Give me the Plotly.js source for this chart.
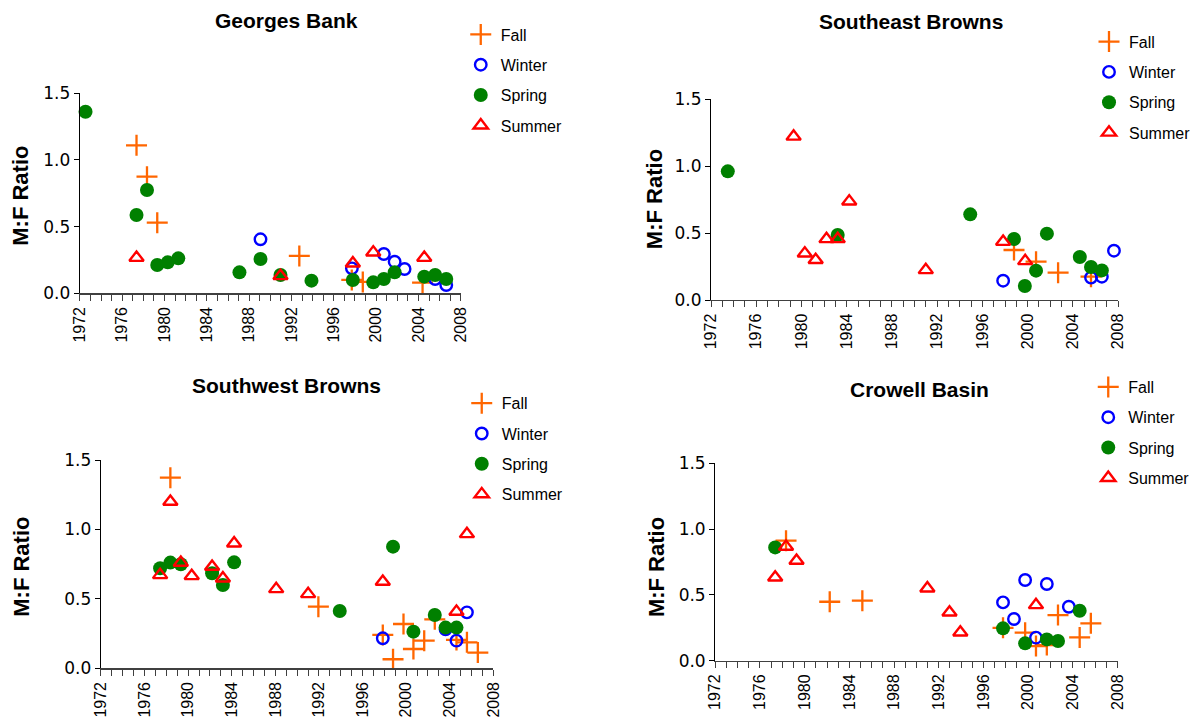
<!DOCTYPE html>
<html>
<head>
<meta charset="utf-8">
<script src="https://cdn.plot.ly/plotly-3.0.1.min.js"></script>
<style>html,body{margin:0;padding:0;background:#fff;}#chart{width:1196px;height:723px;}</style>
</head>
<body>
<div id="chart"></div>
<script>
// ---- data (decimal year, M:F ratio) ----
const seasons = ["Fall", "Winter", "Spring", "Summer"];
const panelTitles = ["Georges Bank", "Southeast Browns", "Southwest Browns", "Crowell Basin"];
const yTitle = "M:F Ratio";
const yearTicks = [1972, 1976, 1980, 1984, 1988, 1992, 1996, 2000, 2004, 2008];
const ratioTicks = [0.0, 0.5, 1.0, 1.5];

// Georges Bank
const gbFallX   = [1977.35, 1978.34, 1979.31, 1992.74, 1997.70, 1998.74, 2004.39];
const gbFallY   = [1.11, 0.875, 0.53, 0.28, 0.10, 0.085, 0.08];
const gbWinterX = [1989.07, 1997.71, 2000.73, 2001.75, 2002.69, 2005.58, 2006.63];
const gbWinterY = [0.405, 0.187, 0.295, 0.237, 0.182, 0.107, 0.062];
const gbSpringX = [1972.53, 1977.35, 1978.34, 1979.31, 1980.30, 1981.30, 1987.08, 1989.07, 1990.96, 1993.89, 1997.80, 1999.73, 2000.73, 2001.75, 2004.55, 2005.58, 2006.63];
const gbSpringY = [1.362, 0.587, 0.775, 0.212, 0.232, 0.262, 0.157, 0.257, 0.137, 0.095, 0.10, 0.082, 0.107, 0.157, 0.125, 0.137, 0.107];
const gbSummerX = [1977.35, 1990.96, 1997.80, 1999.73, 2004.55];
const gbSummerY = [0.267, 0.13, 0.225, 0.307, 0.267];

// Southeast Browns
const seFallX   = [1998.79, 2000.74, 2002.69, 2005.60];
const seFallY   = [0.373, 0.286, 0.204, 0.174];
const seWinterX = [1997.83, 2005.60, 2006.56, 2007.63];
const seWinterY = [0.144, 0.167, 0.174, 0.368];
const seSpringX = [1973.48, 1983.20, 1994.92, 1998.79, 1999.75, 2000.74, 2001.70, 2004.61, 2005.60, 2006.56];
const seSpringY = [0.96, 0.485, 0.639, 0.455, 0.104, 0.219, 0.495, 0.321, 0.246, 0.221];
const seSummerX = [1979.30, 1980.29, 1981.25, 1982.21, 1983.20, 1984.22, 1990.99, 1997.83, 1999.78];
const seSummerY = [1.22, 0.348, 0.299, 0.455, 0.455, 0.736, 0.224, 0.435, 0.291];

// Southwest Browns
const swFallX   = [1978.37, 1991.95, 1997.86, 1998.80, 1999.76, 2000.67, 2001.66, 2002.63, 2004.62, 2005.58, 2006.58];
const swFallY   = [1.373, 0.444, 0.24, 0.065, 0.319, 0.139, 0.199, 0.353, 0.204, 0.187, 0.113];
const swWinterX = [1997.86, 2003.62, 2004.62, 2005.58];
const swWinterY = [0.216, 0.281, 0.199, 0.403];
const swSpringX = [1977.43, 1978.37, 1979.33, 1982.20, 1983.19, 1984.22, 1993.91, 1998.80, 2000.67, 2002.63, 2003.62, 2004.62];
const swSpringY = [0.72, 0.761, 0.749, 0.684, 0.60, 0.763, 0.413, 0.876, 0.264, 0.384, 0.293, 0.293];
const swSummerX = [1977.43, 1978.37, 1979.33, 1980.33, 1982.20, 1983.19, 1984.22, 1988.08, 1991.01, 1997.86, 2004.62, 2005.58];
const swSummerY = [0.672, 1.20, 0.761, 0.665, 0.732, 0.648, 0.90, 0.571, 0.535, 0.624, 0.408, 0.967];

// Crowell Basin
const cbFallX   = [1978.33, 1982.24, 1985.16, 1997.75, 1999.73, 2000.70, 2001.67, 2002.67, 2004.61, 2005.61];
const cbFallY   = [0.912, 0.448, 0.456, 0.25, 0.213, 0.111, 0.119, 0.347, 0.177, 0.284];
const cbWinterX = [1997.75, 1998.73, 1999.73, 2000.70, 2001.67, 2003.64];
const cbWinterY = [0.443, 0.317, 0.613, 0.175, 0.583, 0.41];
const cbSpringX = [1977.36, 1997.75, 1999.73, 2001.67, 2002.67, 2004.61];
const cbSpringY = [0.861, 0.246, 0.132, 0.162, 0.15, 0.38];
const cbSummerX = [1977.36, 1978.33, 1979.27, 1990.98, 1992.96, 1993.93, 2000.70];
const cbSummerY = [0.633, 0.867, 0.76, 0.55, 0.367, 0.215, 0.423];

// ---- figure construction ----
const W = 1196, H = 723;
const FONT = "Liberation Sans, Arial, sans-serif";
const TICKFONT_Y = "DejaVu Sans, Verdana, sans-serif";
const px2x = p => p / W;
const px2y = p => 1 - p / H;

const markerStyles = {
  Fall:   {symbol: "cross-thin-open", size: 15, color: "#FF6600", line: {color: "#FF6600", width: 2.3}},
  Winter: {symbol: "circle-open", size: 11.5, color: "#0000FF", line: {color: "#0000FF", width: 2.4}},
  Spring: {symbol: "circle", size: 14, color: "#008000", line: {width: 0}},
  Summer: {symbol: "triangle-up-open", size: 12.5, color: "#FF0000", line: {color: "#FF0000", width: 2.4}}
};

const panelData = [
  [[gbFallX, gbFallY], [gbWinterX, gbWinterY], [gbSpringX, gbSpringY], [gbSummerX, gbSummerY]],
  [[seFallX, seFallY], [seWinterX, seWinterY], [seSpringX, seSpringY], [seSummerX, seSummerY]],
  [[swFallX, swFallY], [swWinterX, swWinterY], [swSpringX, swSpringY], [swSummerX, swSummerY]],
  [[cbFallX, cbFallY], [cbWinterX, cbWinterY], [cbSpringX, cbSpringY], [cbSummerX, cbSummerY]]
];

// plot-area pixel boxes [left, right, bottom, top]
const boxes = [
  [81, 467, 293.3, 93.3],
  [720.7, 1133.3, 300, 99],
  [102.3, 500, 668.3, 460],
  [725, 1132.7, 660.7, 463.3]
];
const titlePos = [[290, 20.5], [923, 21], [290, 385], [932, 389]];
const yTitlePos = [[21, 196], [663, 199], [21, 567], [665, 567]];
const legendPos = [[467, 17.5], [1104, 24.7], [468, 386.3], [1103, 370]];

const traces = [];
const layout = {
  width: W, height: H,
  margin: {l: 0, r: 0, t: 0, b: 0},
  paper_bgcolor: "#fff", plot_bgcolor: "#fff",
  font: {family: FONT, size: 16, color: "#000"},
  showlegend: true,
  annotations: []
};

panelData.forEach((series, i) => {
  const n = i + 1;
  const xa = n === 1 ? "x" : "x" + n;
  const ya = n === 1 ? "y" : "y" + n;
  const lg = n === 1 ? "legend" : "legend" + n;
  series.forEach((s, k) => {
    const name = seasons[k];
    traces.push({
      type: "scatter", mode: "markers",
      x: s[0], y: s[1], name: name,
      xaxis: xa, yaxis: ya, legend: lg,
      legendgroup: "p" + n + name,
      marker: markerStyles[name],
      cliponaxis: false,
      hoverinfo: "x+y+name"
    });
  });
  const b = boxes[i];
  layout[n === 1 ? "xaxis" : "xaxis" + n] = {
    domain: [px2x(b[0]), px2x(b[1])], anchor: ya,
    range: [1972, 2008], tickmode: "array", tickvals: yearTicks,
    ticktext: yearTicks.map(String), tickangle: -90,
    ticks: "outside", ticklen: 6, tickwidth: 1, tickcolor: "#404040",
    minor: {dtick: 1, tick0: 1972, ticks: "outside", ticklen: 6, tickwidth: 1, tickcolor: "#404040", showgrid: false},
    showline: true, linecolor: "#404040", linewidth: 1.3,
    showgrid: false, zeroline: false,
    tickfont: {family: FONT, size: 16, color: "#000"}
  };
  layout[n === 1 ? "yaxis" : "yaxis" + n] = {
    domain: [px2y(b[2]), px2y(b[3])], anchor: xa,
    range: [0, 1.5], tickmode: "array", tickvals: ratioTicks,
    ticktext: ratioTicks.map(v => v.toFixed(1)),
    ticks: "outside", ticklen: 5, tickwidth: 1, tickcolor: "#000",
    showline: true, linecolor: "#000", linewidth: 1.2,
    showgrid: false, zeroline: false,
    tickfont: {family: TICKFONT_Y, size: 17, color: "#000"}
  };
  layout[lg] = {
    x: px2x(legendPos[i][0]), y: px2y(legendPos[i][1]),
    xanchor: "left", yanchor: "top",
    bgcolor: "rgba(0,0,0,0)", borderwidth: 0,
    font: {family: FONT, size: 16, color: "#000"},
    itemwidth: 30, tracegroupgap: 6.5, traceorder: "grouped",
    itemclick: false, itemdoubleclick: false
  };
  layout.annotations.push({
    xref: "paper", yref: "paper",
    x: px2x(titlePos[i][0]), y: px2y(titlePos[i][1]),
    xanchor: "center", yanchor: "middle", showarrow: false,
    text: "<b>" + panelTitles[i] + "</b>",
    font: {family: FONT, size: 21, color: "#000"}
  });
  layout.annotations.push({
    xref: "paper", yref: "paper",
    x: px2x(yTitlePos[i][0]), y: px2y(yTitlePos[i][1]),
    xanchor: "center", yanchor: "middle", showarrow: false,
    textangle: -90,
    text: "<b>" + yTitle + "</b>",
    font: {family: FONT, size: 22, color: "#000"}
  });
});

Plotly.newPlot("chart", traces, layout, {staticPlot: true, displayModeBar: false});
</script>
</body>
</html>
